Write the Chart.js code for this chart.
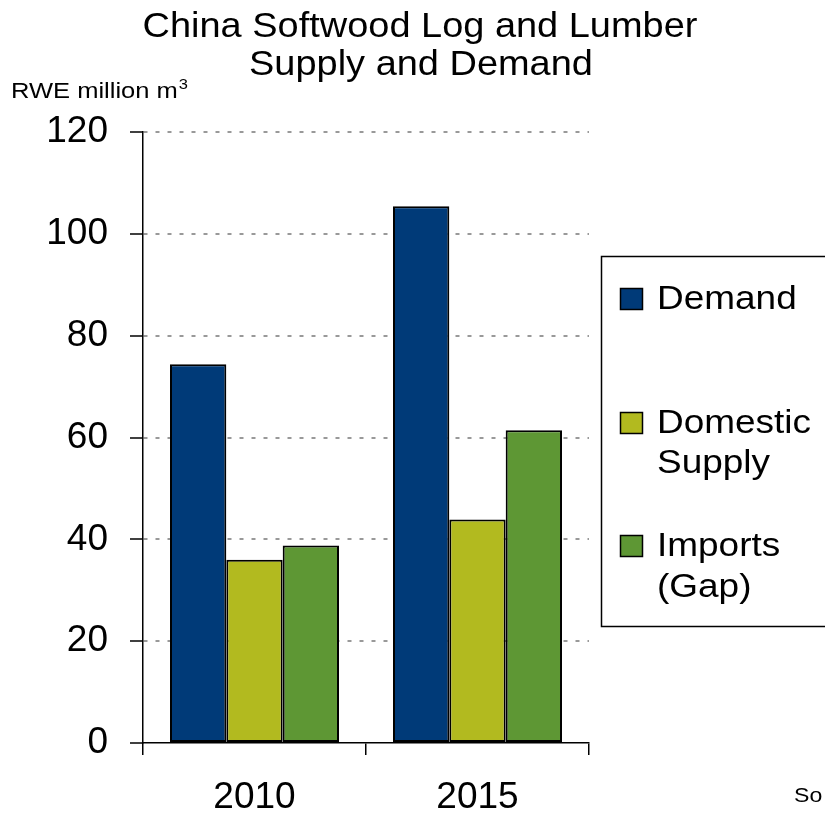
<!DOCTYPE html>
<html>
<head>
<meta charset="utf-8">
<title>China Softwood Log and Lumber Supply and Demand</title>
<script src="https://cdn.jsdelivr.net/npm/chart.js@4/dist/chart.umd.min.js"></script>
<style>
  html, body { margin: 0; padding: 0; background: #ffffff; }
  #wrap { width: 825px; height: 816px; position: relative; }
</style>
</head>
<body>
<div id="wrap"><canvas id="chart" width="825" height="816"></canvas></div>
<script>
// Categories and series (RWE million m³)
const years = ['2010', '2015'];
const demand = [74.4, 105.4];
const domesticSupply = [36.0, 43.9];
const imports = [38.8, 61.4];

// Legend entries, one array of lines per series
const seriesNames = [['Demand'], ['Domestic', 'Supply'], ['Imports', '(Gap)']];
const seriesColors = ['#003a78', '#b2ba1f', '#5e9734'];

// Value axis
const yMin = 0;
const yMax = 120;
const yStep = 20;

// Text
const titleLines = ['China Softwood Log and Lumber', 'Supply and Demand'];
const unitLabel = 'RWE million m';
const unitPower = '3';
const sourceNote = 'So';

const FONT = '"Liberation Sans", Arial, "Helvetica Neue", sans-serif';

// Text drawn with a slightly widened face
function wideText(ctx, text, x, y, size, stretch, align) {
  ctx.save();
  ctx.font = size + 'px ' + FONT;
  ctx.textAlign = align || 'left';
  ctx.translate(x, y);
  ctx.scale(stretch, 1);
  ctx.fillText(text, 0, 0);
  const w = ctx.measureText(text).width * stretch;
  ctx.restore();
  return w;
}

// Draws the heading, unit caption, boxed legend and source note
const decorations = {
  id: 'decorations',
  afterDraw(chart) {
    const ctx = chart.ctx;
    ctx.save();
    ctx.fillStyle = '#000';
    ctx.textBaseline = 'alphabetic';

    // Heading
    wideText(ctx, titleLines[0], 420, 37, 34.5, 1.1, 'center');
    wideText(ctx, titleLines[1], 421, 75, 34.5, 1.1, 'center');

    // Unit caption with superscript
    const w = wideText(ctx, unitLabel, 11, 98, 22, 1.16, 'left');
    wideText(ctx, unitPower, 11 + w + 1, 89, 15, 1.1, 'left');

    // Legend frame
    ctx.strokeStyle = '#000';
    ctx.lineWidth = 1.5;
    ctx.strokeRect(601.5, 256.5, 300, 370);

    // Legend entries
    const baselines = [[309], [433, 473], [556, 597]];
    chart.data.datasets.forEach((ds, i) => {
      const lines = seriesNames[i];
      const top = baselines[i][0] - 21;
      ctx.fillStyle = ds.backgroundColor;
      ctx.fillRect(620, top, 23, 22);
      ctx.lineWidth = 1.5;
      ctx.strokeStyle = '#000';
      ctx.strokeRect(620.5, top + 0.5, 22, 21);
      ctx.fillStyle = '#000';
      lines.forEach((ln, j) => wideText(ctx, ln, 657, baselines[i][j], 33, 1.12, 'left'));
    });

    // Source note
    wideText(ctx, sourceNote, 794, 802, 21, 1.1, 'left');
    ctx.restore();
  }
};

const barStyle = (label, data, color) => ({
  label: label,
  data: data,
  backgroundColor: color,
  borderColor: '#000',
  borderWidth: 2,
  borderSkipped: false,
  categoryPercentage: 0.758,
  barPercentage: 1.0
});

new Chart(document.getElementById('chart'), {
  type: 'bar',
  data: {
    labels: years,
    datasets: [
      barStyle(seriesNames[0].join(' '), demand, seriesColors[0]),
      barStyle(seriesNames[1].join(' '), domesticSupply, seriesColors[1]),
      barStyle(seriesNames[2].join(' '), imports, seriesColors[2])
    ]
  },
  options: {
    responsive: false,
    animation: false,
    devicePixelRatio: 1,
    layout: { padding: { left: 0, right: 236, top: 132, bottom: 0 } },
    plugins: {
      legend: { display: false },
      title: { display: false },
      tooltip: { enabled: false }
    },
    scales: {
      x: {
        grid: {
          offset: true,
          drawOnChartArea: false,
          tickLength: 12,
          tickColor: '#000',
          lineWidth: 1.5
        },
        border: { color: '#000', width: 1.5 },
        ticks: {
          color: '#000',
          padding: 21,
          font: { family: FONT, size: 37 }
        },
        afterFit(scale) { scale.height = 73; }
      },
      y: {
        min: yMin,
        max: yMax,
        grid: {
          color: (c) => (c.tick && c.tick.value === 0 ? 'rgba(0,0,0,0)' : '#999999'),
          lineWidth: 2,
          tickColor: '#000',
          tickLength: 13,
          tickWidth: 1.5
        },
        border: { color: '#000', width: 1.5, dash: [4, 8] },
        ticks: {
          stepSize: yStep,
          color: '#000',
          padding: 22,
          font: { family: FONT, size: 37 }
        },
        afterFit(scale) { scale.width = 143; }
      }
    }
  },
  plugins: [decorations]
});
</script>
</body>
</html>
